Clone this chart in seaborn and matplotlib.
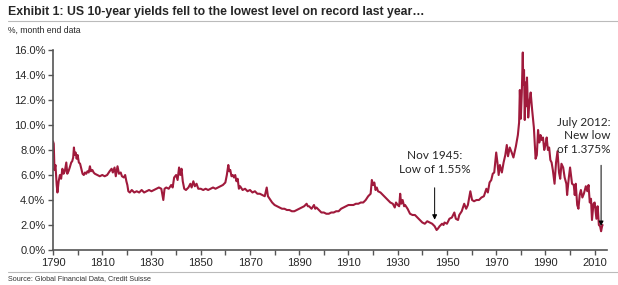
import pandas as pd
import matplotlib.pyplot as plt
import seaborn as sns
import numpy as np

# yields (year, %), month-end data approximated
years = [1790.0, 1790.3, 1790.6, 1791.0, 1791.5, 1791.8, 1792.3, 1792.8, 1793.3, 1793.8,
         1794.3, 1794.8, 1795.4, 1795.8, 1796.3, 1796.8, 1797.4, 1797.8, 1798.2, 1798.5,
         1798.8, 1799.2, 1799.6, 1800.0, 1800.5, 1801.0, 1801.5, 1802.0, 1802.5, 1803.0,
         1803.5, 1804.0, 1804.5, 1805.0, 1805.4, 1806.0, 1806.5, 1807.0, 1808.0, 1809.0,
         1810.0, 1811.0, 1812.0, 1813.0, 1813.8, 1814.3, 1815.0, 1815.5, 1816.2, 1816.8,
         1817.5, 1818.0, 1818.8, 1819.3, 1819.8, 1820.2, 1820.6, 1821.2, 1822.0, 1823.0,
         1824.0, 1825.0, 1826.0, 1827.0, 1828.0, 1829.0, 1830.0, 1831.0, 1832.0, 1833.0,
         1834.0, 1834.8, 1835.3, 1836.0, 1837.0, 1838.0, 1838.6, 1839.2, 1840.0, 1840.6,
         1841.2, 1841.7, 1842.2, 1842.7, 1843.3, 1844.0, 1845.0, 1845.8, 1846.3, 1847.0,
         1847.6, 1848.3, 1849.0, 1850.0, 1851.0, 1852.0, 1853.0, 1854.0, 1855.0, 1856.0,
         1857.0, 1858.0, 1859.0, 1860.0, 1860.6, 1861.2, 1861.6, 1862.0, 1862.5, 1863.0,
         1863.5, 1864.0, 1864.5, 1865.0, 1865.5, 1866.0, 1867.0, 1868.0, 1869.0, 1870.0,
         1871.0, 1872.0, 1873.0, 1874.0, 1875.0, 1876.0, 1876.8, 1877.3, 1878.0, 1879.0,
         1880.0, 1881.0, 1882.0, 1883.0, 1884.0, 1885.0, 1886.0, 1887.0, 1888.0, 1889.0,
         1890.0, 1891.0, 1892.0, 1893.0, 1893.5, 1894.0, 1895.0, 1896.0, 1896.5, 1897.0,
         1898.0, 1899.0, 1900.0, 1901.0, 1902.0, 1903.0, 1904.0, 1905.0, 1906.0, 1907.0,
         1908.0, 1909.0, 1910.0, 1911.0, 1912.0, 1913.0, 1914.0, 1915.0, 1916.0, 1917.0,
         1918.0, 1919.0, 1919.5, 1920.0, 1920.5, 1921.0, 1921.5, 1922.0, 1923.0, 1924.0,
         1925.0, 1926.0, 1927.0, 1928.0, 1928.8, 1929.3, 1930.0, 1930.6, 1931.0, 1931.4,
         1932.0, 1932.6, 1933.0, 1934.0, 1935.0, 1936.0, 1937.0, 1938.0, 1939.0, 1940.0,
         1941.0, 1942.0, 1943.0, 1944.0, 1945.0, 1945.8, 1946.3, 1947.0, 1948.0, 1948.6,
         1949.0, 1950.0, 1951.0, 1952.0, 1953.0, 1953.6, 1954.5, 1955.0, 1956.0, 1957.0,
         1957.8, 1958.5, 1959.5, 1960.2, 1961.0, 1962.0, 1963.0, 1964.0, 1965.0, 1966.0,
         1966.6, 1967.3, 1968.0, 1968.6, 1969.2, 1970.0, 1970.5, 1971.0, 1971.5, 1972.3,
         1973.0, 1973.7, 1974.3, 1974.8, 1975.5, 1976.3, 1977.0, 1978.0, 1978.8, 1979.3,
         1979.6, 1980.0, 1980.4, 1980.8, 1981.0, 1981.3, 1981.6, 1981.9, 1982.2, 1982.5,
         1983.0, 1983.5, 1984.0, 1984.6, 1985.3, 1986.0, 1986.5, 1987.0, 1987.5, 1988.0,
         1988.5, 1989.0, 1989.5, 1990.0, 1990.5, 1991.0, 1991.5, 1992.0, 1992.5, 1993.0,
         1993.7, 1994.3, 1994.9, 1995.5, 1996.0, 1996.5, 1997.2, 1997.8, 1998.5, 1998.8,
         1999.5, 2000.0, 2000.8, 2001.5, 2001.9, 2002.3, 2002.9, 2003.4, 2003.9, 2004.4,
         2005.0, 2005.6, 2006.4, 2007.0, 2007.5, 2008.0, 2008.5, 2008.9, 2009.5, 2010.0,
         2010.7, 2011.2, 2011.7, 2012.2, 2012.6, 2013.0, 2013.2]
yields = [8.7, 8.5, 6.4, 6.8, 5.2, 4.6, 5.5, 6.0, 5.7, 6.5,
          6.1, 6.3, 7.0, 6.1, 6.3, 6.6, 7.0, 7.1, 7.4, 8.2,
          7.6, 7.8, 7.3, 7.6, 7.0, 6.9, 6.5, 6.1, 6.0, 6.2,
          6.1, 6.3, 6.2, 6.7, 6.3, 6.4, 6.2, 6.1, 6.0, 5.9,
          6.0, 5.9, 6.0, 6.3, 6.5, 6.2, 6.6, 5.9, 6.7, 6.1,
          6.2, 5.9, 5.8, 6.0, 5.5, 5.2, 4.7, 4.6, 4.8, 4.6,
          4.7, 4.6, 4.8, 4.6, 4.7, 4.8, 4.7, 4.8, 4.9, 5.0,
          4.9, 4.0, 4.9, 5.0, 4.9, 5.2, 5.0, 5.8, 6.0, 5.6,
          6.6, 6.0, 6.5, 5.5, 4.9, 4.8, 5.0, 5.3, 5.0, 5.5,
          5.1, 5.3, 4.9, 4.9, 4.8, 4.9, 4.8, 4.9, 5.0, 4.9,
          5.0, 5.1, 5.2, 5.4, 6.0, 6.8, 6.3, 6.4, 5.9, 6.0,
          5.8, 6.0, 5.5, 5.7, 4.9, 5.1, 4.8, 4.9, 4.7, 4.8,
          4.6, 4.7, 4.5, 4.5, 4.4, 4.3, 5.0, 4.3, 4.1, 3.8,
          3.6, 3.5, 3.4, 3.3, 3.3, 3.2, 3.2, 3.1, 3.1, 3.2,
          3.3, 3.4, 3.5, 3.7, 3.5, 3.5, 3.3, 3.6, 3.3, 3.4,
          3.2, 3.0, 3.0, 2.9, 2.9, 3.0, 3.0, 3.1, 3.1, 3.3,
          3.4, 3.5, 3.6, 3.6, 3.6, 3.7, 3.7, 3.8, 3.8, 4.0,
          4.3, 4.5, 5.6, 5.2, 5.4, 4.8, 5.0, 4.7, 4.6, 4.4,
          4.2, 4.0, 3.8, 3.7, 3.4, 3.8, 3.6, 3.5, 4.5, 3.7,
          4.0, 3.5, 3.6, 3.3, 2.9, 2.8, 2.8, 2.6, 2.4, 2.2,
          2.1, 2.3, 2.2, 2.1, 1.9, 1.6, 1.7, 1.9, 2.1, 2.0,
          2.2, 2.1, 2.5, 2.6, 3.0, 2.5, 2.4, 2.8, 3.1, 3.7,
          3.3, 3.6, 4.7, 4.0, 3.9, 4.0, 4.0, 4.2, 4.3, 4.9,
          4.6, 5.4, 5.6, 6.1, 6.2, 7.8, 7.0, 6.0, 6.8, 6.2,
          7.0, 7.6, 8.4, 7.5, 8.2, 7.8, 7.4, 8.3, 9.2, 10.2,
          12.8, 10.5, 12.6, 15.8, 13.2, 14.4, 10.4, 13.4, 11.5, 13.8,
          10.6, 11.8, 12.6, 11.2, 9.8, 7.3, 7.6, 9.6, 8.6, 9.2,
          8.8, 9.0, 8.0, 8.4, 9.0, 8.0, 8.2, 7.2, 7.0, 6.4,
          5.3, 7.0, 7.9, 6.2, 5.7, 6.9, 6.6, 5.8, 5.3, 4.4,
          5.8, 6.6, 5.3, 5.2, 4.4, 5.3, 3.6, 3.3, 4.4, 4.8,
          4.2, 4.5, 5.1, 4.7, 5.2, 3.8, 4.1, 2.4, 3.7, 3.8,
          2.5, 3.5, 2.0, 1.9, 1.5, 1.9, 2.0]

ytick_vals = [0, 2, 4, 6, 8, 10, 12, 14, 16]
xtick_vals = list(range(1790, 2011, 10))
xtick_labels = [str(y) if (y - 1790) % 20 == 0 else "" for y in xtick_vals]

df = pd.DataFrame({"year": years, "yield": yields})

sns.set_style("ticks")
plt.rcParams['font.family'] = ['Liberation Sans', 'DejaVu Sans']

fig = plt.figure(figsize=(6.18, 2.85), dpi=100)
ax = fig.add_axes([53 / 618, 1 - 250 / 285, 554 / 618, 200 / 285])

sns.lineplot(data=df, x="year", y="yield", ax=ax, color="#A01A3C", linewidth=1.5)

ax.set_xlim(1790, 2015)
ax.set_ylim(0, 16)
ax.set_yticks(ytick_vals)
ax.set_yticklabels([f"{v:.1f}%" for v in ytick_vals], fontsize=8)
ax.set_xticks(xtick_vals)
ax.set_xticklabels(xtick_labels, fontsize=8)
ax.set_xlabel("")
ax.set_ylabel("")
ax.tick_params(axis="both", direction="out", length=3.5, width=1, color="#555555", pad=2)
for s in ["top", "right"]:
    ax.spines[s].set_visible(False)
for s in ["left", "bottom"]:
    ax.spines[s].set_color("#555555")
    ax.spines[s].set_linewidth(1.2)

ann_font = ['Lato', 'DejaVu Sans']
ax.annotate("", xy=(1945.0, 2.2), xytext=(1945.0, 5.2),
            arrowprops=dict(arrowstyle="-|>", color="black", lw=0.7, mutation_scale=7))
ax.text(1945.0, 6.0, "Nov 1945:\nLow of 1.55%", ha="center", va="bottom",
        fontsize=8.5, family=ann_font, linespacing=1.3)
ax.annotate("", xy=(2012.6, 1.7), xytext=(2012.6, 7.0),
            arrowprops=dict(arrowstyle="-|>", color="black", lw=0.7, mutation_scale=7))
ax.text(2016.5, 7.6, "July 2012:\nNew low\nof 1.375%", ha="right", va="bottom",
        fontsize=8.5, family=ann_font, linespacing=1.3, clip_on=False)

fig.text(8 / 618, 1 - 12 / 285,
         "Exhibit 1: US 10-year yields fell to the lowest level on record last year…",
         fontsize=8.8, fontweight="bold", va="center", ha="left")
fig.add_artist(plt.Line2D([8 / 618, 1], [1 - 21 / 285, 1 - 21 / 285], color="#bbbbbb", lw=0.8))
fig.text(8 / 618, 1 - 30 / 285, "%, month end data", fontsize=6.2, va="center", ha="left")
fig.add_artist(plt.Line2D([8 / 618, 1], [1 - 272 / 285, 1 - 272 / 285], color="#bbbbbb", lw=0.8))
fig.text(8 / 618, 1 - 279 / 285, "Source: Global Financial Data, Credit Suisse",
         fontsize=5.2, va="center", ha="left", color="#333333")

fig.savefig("out.png", dpi=100)
